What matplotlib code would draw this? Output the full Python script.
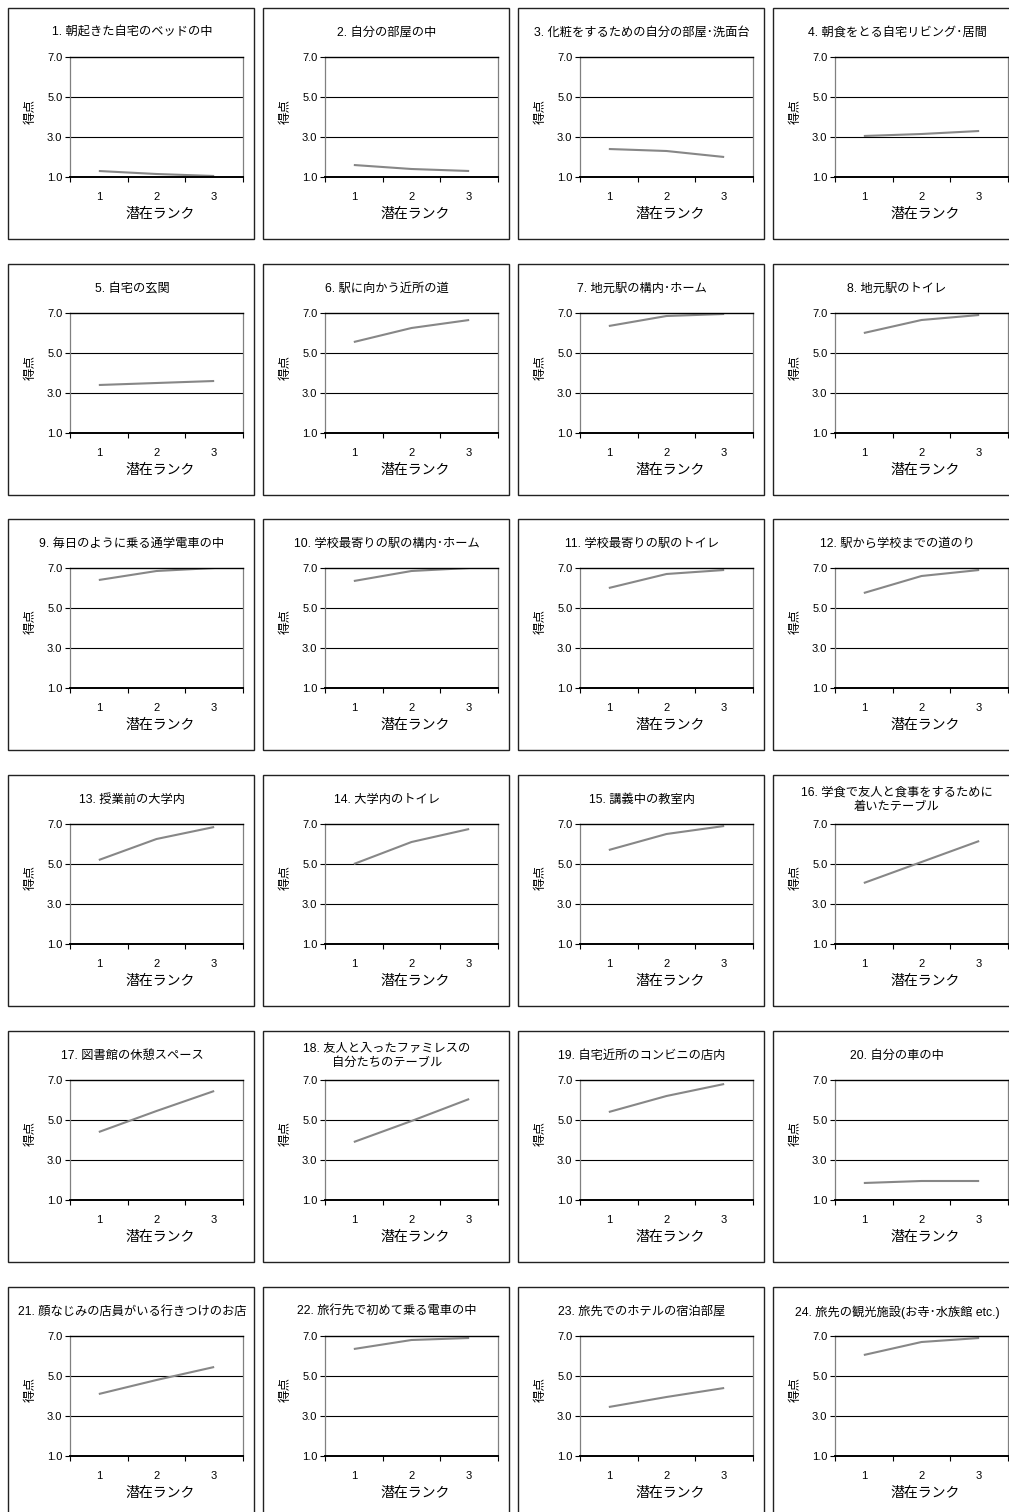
import matplotlib
matplotlib.use('Agg')
import matplotlib.pyplot as plt
from matplotlib.patches import Rectangle
from matplotlib.ticker import FormatStrFormatter

plt.rcParams['font.family'] = ['Liberation Sans', 'Noto Sans CJK JP', 'DejaVu Sans']

W, H = 1009, 1512

titles = [
    '1. 朝起きた自宅のベッドの中',
    '2. 自分の部屋の中',
    '3. 化粧をするための自分の部屋･洗面台',
    '4. 朝食をとる自宅リビング･居間',
    '5. 自宅の玄関',
    '6. 駅に向かう近所の道',
    '7. 地元駅の構内･ホーム',
    '8. 地元駅のトイレ',
    '9. 毎日のように乗る通学電車の中',
    '10. 学校最寄りの駅の構内･ホーム',
    '11. 学校最寄りの駅のトイレ',
    '12. 駅から学校までの道のり',
    '13. 授業前の大学内',
    '14. 大学内のトイレ',
    '15. 講義中の教室内',
    '16. 学食で友人と食事をするために\n着いたテーブル',
    '17. 図書館の休憩スペース',
    '18. 友人と入ったファミレスの\n自分たちのテーブル',
    '19. 自宅近所のコンビニの店内',
    '20. 自分の車の中',
    '21. 顔なじみの店員がいる行きつけのお店',
    '22. 旅行先で初めて乗る電車の中',
    '23. 旅先でのホテルの宿泊部屋',
    '24. 旅先の観光施設(お寺･水族館 etc.)',
]

ranks = [1, 2, 3]
rank_labels = ['1', '2', '3']

# mean score at latent rank 1, 2, 3 for each place
score_rank1 = [1.30, 1.60, 2.40, 3.05, 3.40, 5.55, 6.35, 6.00, 6.40, 6.35, 6.00, 5.75,
               5.20, 5.00, 5.70, 4.05, 4.40, 3.90, 5.40, 1.85, 4.10, 6.35, 3.45, 6.05]
score_rank2 = [1.15, 1.40, 2.30, 3.15, 3.50, 6.25, 6.85, 6.65, 6.85, 6.85, 6.70, 6.60,
               6.25, 6.10, 6.50, 5.10, 5.45, 4.95, 6.20, 1.95, 4.80, 6.80, 3.95, 6.70]
score_rank3 = [1.05, 1.30, 2.00, 3.30, 3.60, 6.65, 6.95, 6.90, 7.00, 7.00, 6.90, 6.90,
               6.85, 6.75, 6.90, 6.15, 6.45, 6.05, 6.80, 1.95, 5.45, 6.90, 4.40, 6.90]

y_ticks = [1, 3, 5, 7]

col_left = [8, 263, 518, 773]
row_top = [8, 264, 519, 775, 1031, 1287]
box_w, box_h = 246, 231


def fx(x):
    return x / W


def fy(y):
    return 1 - y / H


fig = plt.figure(figsize=(W / 100, H / 100), dpi=100)
fig.patch.set_facecolor('white')

for i, title in enumerate(titles):
    bx = col_left[i % 4]
    by = row_top[i // 4]

    # chart box border
    fig.patches.append(Rectangle((fx(bx), fy(by + box_h)), box_w / W, box_h / H,
                                 transform=fig.transFigure, fill=False,
                                 edgecolor='#222222', linewidth=1.0))

    ax = fig.add_axes([fx(bx + 62), fy(by + 169), 173 / W, 120 / H])
    vals = [score_rank1[i], score_rank2[i], score_rank3[i]]
    ax.plot(ranks, vals, color='#878787', linewidth=1.5, solid_capstyle='butt')

    ax.set_xlim(0.5, 3.5)
    ax.set_ylim(1, 7)
    for g in y_ticks[1:3]:
        ax.axhline(g, color='black', linewidth=0.8, zorder=0)

    ax.set_xticks([0.5, 1.5, 2.5, 3.5])
    ax.set_xticklabels([])
    ax.set_xticks(ranks, minor=True)
    ax.set_xticklabels(rank_labels, minor=True)
    ax.tick_params(axis='x', which='major', direction='out', length=3.5, width=0.8, color='black')
    ax.tick_params(axis='x', which='minor', length=0, pad=10.5, labelsize=8)

    ax.set_yticks(y_ticks)
    ax.yaxis.set_major_formatter(FormatStrFormatter('%.1f'))
    ax.tick_params(axis='y', direction='out', length=3.5, width=0.8, pad=2, labelsize=8)

    ax.spines['left'].set_color('#808080')
    ax.spines['right'].set_color('#808080')
    ax.spines['left'].set_linewidth(0.9)
    ax.spines['right'].set_linewidth(0.9)
    ax.spines['top'].set_color('black')
    ax.spines['top'].set_linewidth(1.0)
    ax.spines['bottom'].set_color('black')
    ax.spines['bottom'].set_linewidth(1.4)

    if '\n' in title:
        fig.text(fx(bx + 124), fy(by + 25), title, ha='center', va='center',
                 fontsize=8.8, linespacing=1.3)
    else:
        fig.text(fx(bx + 124), fy(by + 25), title, ha='center', va='center', fontsize=8.8)

    fig.text(fx(bx + 23), fy(by + 103), '得点', rotation=90, ha='center', va='center', fontsize=9)
    fig.text(fx(bx + 152), fy(by + 206), '潜在ランク', ha='center', va='center', fontsize=10)

fig.savefig('out.png', dpi=100)
